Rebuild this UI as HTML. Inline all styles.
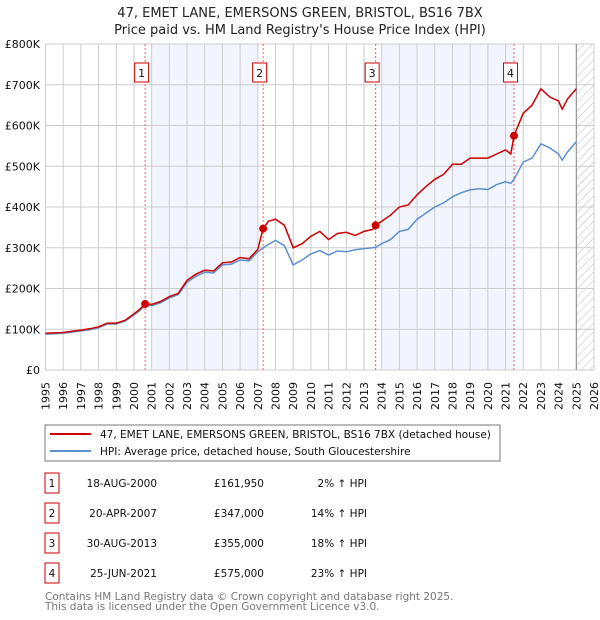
<!DOCTYPE html>
<html><head><meta charset="utf-8"><style>
body{margin:0;background:#fff;width:600px;height:620px;overflow:hidden;font-family:"DejaVu Sans","Liberation Sans",sans-serif;}
svg{position:absolute;left:0;top:0}
</style></head><body>
<svg id="c" width="600" height="620" font-family="DejaVu Sans, Liberation Sans, sans-serif">
<text x="300" y="17" text-anchor="middle" font-size="13" fill="#222">47, EMET LANE, EMERSONS GREEN, BRISTOL, BS16 7BX</text>
<text x="300" y="34" text-anchor="middle" font-size="13" fill="#222">Price paid vs. HM Land Registry's House Price Index (HPI)</text>
<defs><pattern id="hatch" width="6" height="6" patternUnits="userSpaceOnUse" patternTransform="rotate(45)"><line x1="0" y1="0" x2="0" y2="6" stroke="#bbb" stroke-width="1"/></pattern></defs>
<g id="plot"></g>
<rect x="45" y="425" width="455" height="36" fill="#fff" stroke="#777"/>
<line x1="50" y1="434" x2="91" y2="434" stroke="#cc0000" stroke-width="2"/>
<text x="100" y="438" font-size="10.5" fill="#111">47, EMET LANE, EMERSONS GREEN, BRISTOL, BS16 7BX (detached house)</text>
<line x1="50" y1="451" x2="91" y2="451" stroke="#5b8fd0" stroke-width="2"/>
<text x="100" y="455" font-size="10.5" fill="#111">HPI: Average price, detached house, South Gloucestershire</text>
<g id="table" font-size="10.5" fill="#111"></g>
<text x="45" y="600" font-size="10.5" fill="#777">Contains HM Land Registry data © Crown copyright and database right 2025.</text>
<text x="45" y="610" font-size="10.5" fill="#777">This data is licensed under the Open Government Licence v3.0.</text>
</svg>
<script>
const years=[1995,1995.5,1996,1996.5,1997,1997.5,1998,1998.5,1999,1999.5,2000,2000.3,2000.63,2001,2001.5,2002,2002.5,2003,2003.5,2004,2004.5,2005,2005.5,2006,2006.5,2007,2007.3,2007.6,2008,2008.5,2009,2009.5,2010,2010.5,2011,2011.5,2012,2012.5,2013,2013.5,2013.66,2014,2014.5,2015,2015.5,2016,2016.5,2017,2017.5,2018,2018.5,2019,2019.5,2020,2020.5,2021,2021.3,2021.48,2022,2022.5,2023,2023.5,2024,2024.2,2024.5,2025];
const hpiValues=[88,89,90,93,96,99,104,113,113,120,135,145,158,158,165,177,185,215,230,240,238,258,260,270,268,290,300,308,318,305,258,270,285,293,282,292,290,295,298,300,301,310,320,340,345,370,385,400,410,425,435,442,445,443,455,462,458,468,510,520,555,545,530,515,535,560];
const priceValues=[90,91,92,95,98,101,106,115,115,122,138,148,162,161,168,180,188,220,235,245,243,263,265,276,273,296,347,365,370,355,300,310,328,340,320,335,338,330,340,345,355,365,380,400,405,430,450,468,480,505,505,520,520,520,530,540,530,575,630,650,690,670,660,640,665,690];
const saleYears=[2000.63,2007.3,2013.66,2021.48];
const salePrices=[161.95,347,355,575];
const saleLabels=["1","2","3","4"];
const saleDates=["18-AUG-2000","20-APR-2007","30-AUG-2013","25-JUN-2021"];
const salePriceText=["£161,950","£347,000","£355,000","£575,000"];
const saleHpiText=["2% ↑ HPI","14% ↑ HPI","18% ↑ HPI","23% ↑ HPI"];
const yTicks=[0,100,200,300,400,500,600,700,800];
const yTickLabels=["£0","£100K","£200K","£300K","£400K","£500K","£600K","£700K","£800K"];
const shadedSpans=[[2001,2007],[2014,2021.48]];

const X0=45.5,X1=594,Y0=370,Y1=44;
const xs=y=>X0+(y-1995)*(X1-X0)/31;
const ys=v=>Y0-v*(Y0-Y1)/800;
const NS="http://www.w3.org/2000/svg";
const plot=document.getElementById('plot');
function mk(tag,attrs,parent){const e=document.createElementNS(NS,tag);for(const k in attrs)e.setAttribute(k,attrs[k]);(parent||plot).appendChild(e);return e;}

mk('rect',{x:X0,y:Y1,width:X1-X0,height:Y0-Y1,fill:'#fff'});
shadedSpans.forEach(s=>{const r=mk('rect',{x:xs(s[0]),y:Y1,width:xs(s[1])-xs(s[0]),height:Y0-Y1,fill:'#eef2fc',opacity:0.75});

});
const h=mk('rect',{x:xs(2025),y:Y1,width:X1-xs(2025),height:Y0-Y1,fill:'url(#hatch)'});


for(let y=1995;y<=2026;y++){mk('line',{x1:xs(y),x2:xs(y),y1:Y1,y2:Y0,stroke:'#ccc','stroke-width':1});
const t=mk('text',{x:0,y:0,transform:`translate(${xs(y)+4},${Y0+40}) rotate(-90)`,'font-size':11,fill:'#111'});t.textContent=y;

}
yTicks.forEach((v,i)=>{mk('line',{x1:X0,x2:X1,y1:ys(v),y2:ys(v),stroke:'#ccc','stroke-width':1});
const t=mk('text',{x:40,y:ys(v)+4,'text-anchor':'end','font-size':11,fill:'#111'});t.textContent=yTickLabels[i];

});
mk('line',{x1:xs(2025),x2:xs(2025),y1:Y1,y2:Y0,stroke:'#888','stroke-width':1});
saleYears.forEach((y,i)=>{const l=mk('line',{x1:xs(y),x2:xs(y),y1:Y1,y2:Y0,stroke:'#f06060','stroke-width':1,'stroke-dasharray':'2,2'});


const cx=xs(y)-3.5;
const b=mk('rect',{x:cx-7,y:63,width:14,height:19,fill:'#fff',stroke:'#cc0000'});


const t=mk('text',{x:cx,y:77,'text-anchor':'middle','font-size':11,fill:'#111'});t.textContent=saleLabels[i];

});
const pts=a=>years.map((y,i)=>xs(y).toFixed(1)+','+ys(a[i]).toFixed(1)).join(' ');
const hl=mk('polyline',{points:pts(hpiValues),fill:'none',stroke:'#5b8fd0','stroke-width':1.5});


const pl=mk('polyline',{points:pts(priceValues),fill:'none',stroke:'#cc0000','stroke-width':1.5});


saleYears.forEach((y,i)=>{const c=mk('circle',{cx:xs(y),cy:ys(salePrices[i]),r:4,fill:'#cc0000'});

});

const tb=document.getElementById('table');
const rowY=[483,513,543,573];
saleLabels.forEach((s,i)=>{const y=rowY[i];
const r=mk('rect',{x:45,y:y-10,width:14,height:20,fill:'#fff',stroke:'#cc0000'},tb);


const cells=[[52,'middle',s],[157,'end',saleDates[i]],[264,'end',salePriceText[i]],[367,'end',saleHpiText[i]]];
cells.forEach(c=>{const t=mk('text',{x:c[0],y:y+4,'text-anchor':c[1],'font-size':10.5,fill:'#111'},tb);t.textContent=c[2];

});});
</script>
</body></html>
